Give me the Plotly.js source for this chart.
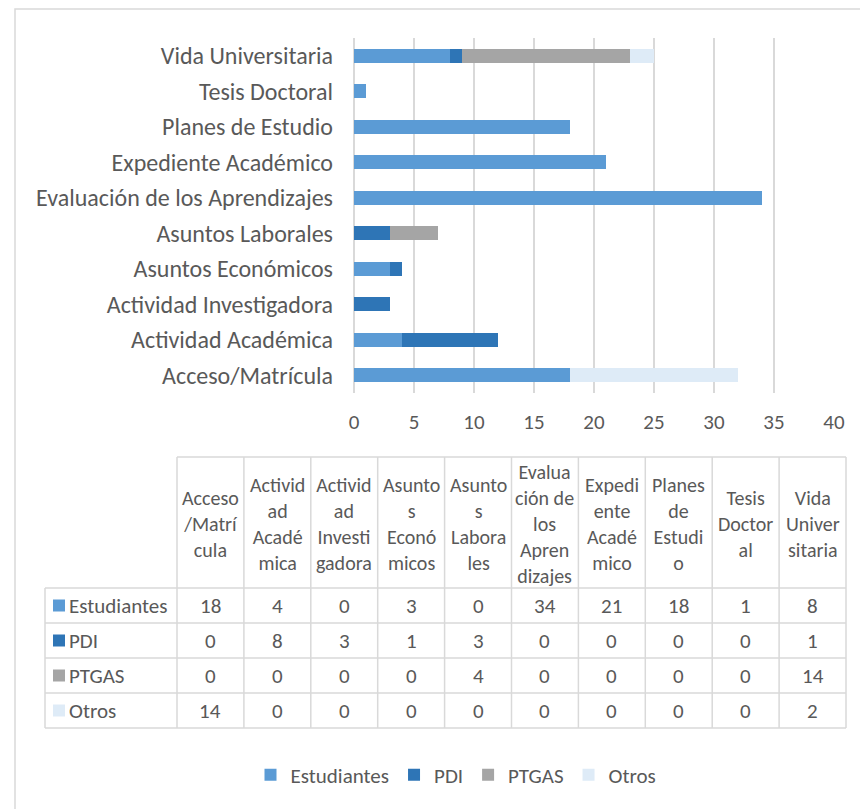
<!DOCTYPE html>
<html>
<head>
<meta charset="utf-8">
<script src="https://cdn.plot.ly/plotly-3.0.1.min.js"></script>
<style>
  html, body { margin: 0; padding: 0; background: #ffffff; }
  #chart { width: 860px; height: 809px; }
</style>
</head>
<body>
<div id="chart"></div>
<script>
// ---- Data ----
const categories = ['Acceso/Matrícula', 'Actividad Académica', 'Actividad Investigadora', 'Asuntos Económicos', 'Asuntos Laborales', 'Evaluación de los Aprendizajes', 'Expediente Académico', 'Planes de Estudio', 'Tesis Doctoral', 'Vida Universitaria'];
const headerLabels = ['Acceso<br>/Matrí<br>cula', 'Activid<br>ad<br>Acadé<br>mica', 'Activid<br>ad<br>Investi<br>gadora', 'Asunto<br>s<br>Econó<br>micos', 'Asunto<br>s<br>Labora<br>les', 'Evalua<br>ción de<br>los<br>Apren<br>dizajes', 'Expedi<br>ente<br>Acadé<br>mico', 'Planes<br>de<br>Estudi<br>o', 'Tesis<br>Doctor<br>al', 'Vida<br>Univer<br>sitaria'];
const estudiantes = [18, 4, 0, 3, 0, 34, 21, 18, 1, 8];
const pdi = [0, 8, 3, 1, 3, 0, 0, 0, 0, 1];
const ptgas = [0, 0, 0, 0, 4, 0, 0, 0, 0, 14];
const otros = [14, 0, 0, 0, 0, 0, 0, 0, 0, 2];
const seriesNames = ['Estudiantes', 'PDI', 'PTGAS', 'Otros'];
const seriesColors = ['#5B9BD5', '#2E75B6', '#A5A5A5', '#DEEBF7'];
const xTickValues = [0, 5, 10, 15, 20, 25, 30, 35, 40];

const seriesValues = [estudiantes, pdi, ptgas, otros];

// ---- Geometry helpers (pixels -> paper) ----
const W = 860, H = 809;
const px = x => x / W;
const py = y => 1 - y / H;
const FONT = 'Carlito, Calibri, Lato, sans-serif';
const TXT = '#595959';
const GRID = '#D9D9D9';
const TBL_FS = 21;

const traces = seriesNames.map((name, i) => ({
  type: 'bar',
  orientation: 'h',
  name: name,
  y: categories,
  x: seriesValues[i],
  marker: { color: seriesColors[i], line: { width: 0 } },
  hoverinfo: 'x+y+name'
}));

// ---- Table (shapes + annotations) ----
const tblLeft = 45, hdrLeft = 177, tblRight = 846;
const hdrTop = 457, hdrBottom = 588, rowH = 35;
const nCols = categories.length;
const colW = (tblRight - hdrLeft) / nCols;
const tblBottom = hdrBottom + rowH * seriesNames.length;

const shapes = [];
const annotations = [];
const line = { color: GRID, width: 1.5 };

// outer chart border
shapes.push({ type: 'rect', xref: 'paper', yref: 'paper', x0: px(15), x1: px(W + 20), y0: py(9), y1: py(H + 20), line: { color: GRID, width: 1.5 }, fillcolor: 'rgba(0,0,0,0)', layer: 'below' });

// header top
shapes.push({ type: 'line', xref: 'paper', yref: 'paper', x0: px(hdrLeft), x1: px(tblRight), y0: py(hdrTop), y1: py(hdrTop), line });
// horizontal row lines
for (let r = 0; r <= seriesNames.length; r++) {
  const y = hdrBottom + r * rowH;
  shapes.push({ type: 'line', xref: 'paper', yref: 'paper', x0: px(tblLeft), x1: px(tblRight), y0: py(y), y1: py(y), line });
}
// vertical lines
shapes.push({ type: 'line', xref: 'paper', yref: 'paper', x0: px(tblLeft), x1: px(tblLeft), y0: py(hdrBottom), y1: py(tblBottom), line });
for (let c = 0; c <= nCols; c++) {
  const x = hdrLeft + c * colW;
  shapes.push({ type: 'line', xref: 'paper', yref: 'paper', x0: px(x), x1: px(x), y0: py(hdrTop), y1: py(tblBottom), line });
}

// header text
headerLabels.forEach((lab, c) => {
  annotations.push({
    xref: 'paper', yref: 'paper', x: px(hdrLeft + (c + 0.5) * colW), y: py((hdrTop + hdrBottom) / 2 + 1),
    xanchor: 'center', yanchor: 'middle', showarrow: false, align: 'center',
    text: lab, font: { family: FONT, size: 20, color: TXT }
  });
});

// rows
seriesNames.forEach((name, r) => {
  const yc = hdrBottom + (r + 0.5) * rowH;
  shapes.push({ type: 'rect', xref: 'paper', yref: 'paper', x0: px(53), x1: px(65), y0: py(yc - 6), y1: py(yc + 6), line: { width: 0 }, fillcolor: seriesColors[r] });
  annotations.push({
    xref: 'paper', yref: 'paper', x: px(67), y: py(yc), xanchor: 'left', yanchor: 'middle', showarrow: false,
    text: name, font: { family: FONT, size: TBL_FS, color: TXT }
  });
  seriesValues[r].forEach((v, c) => {
    annotations.push({
      xref: 'paper', yref: 'paper', x: px(hdrLeft + (c + 0.5) * colW), y: py(yc), xanchor: 'center', yanchor: 'middle', showarrow: false,
      text: String(v), font: { family: FONT, size: TBL_FS, color: TXT }
    });
  });
});

const layout = {
  width: W, height: H,
  margin: { l: 0, r: 0, t: 0, b: 0 },
  paper_bgcolor: '#ffffff', plot_bgcolor: '#ffffff',
  barmode: 'stack',
  bargap: 0.6,
  font: { family: FONT, color: TXT },
  showlegend: true,
  legend: {
    orientation: 'h', x: px(456), xanchor: 'center', y: py(775), yanchor: 'middle',
    font: { family: FONT, size: TBL_FS, color: TXT }, traceorder: 'normal', itemclick: false
  },
  xaxis: {
    domain: [px(354), px(834)],
    range: [0, 40], tickvals: xTickValues, ticktext: xTickValues.map(String),
    showgrid: true, gridcolor: GRID, gridwidth: 1.5,
    zeroline: true, zerolinecolor: GRID, zerolinewidth: 1.5,
    showline: false, ticks: '', ticklabelstandoff: 14,
    tickfont: { family: FONT, size: 21, color: TXT }, fixedrange: true
  },
  yaxis: {
    domain: [py(393), py(38)],
    type: 'category', showgrid: false, zeroline: false, showline: false, ticks: '',
    ticklabelstandoff: 20,
    tickfont: { family: FONT, size: 24, color: TXT }, fixedrange: true
  },
  shapes: shapes,
  annotations: annotations
};

Plotly.newPlot('chart', traces, layout, { displayModeBar: false, staticPlot: true });
</script>
</body>
</html>
